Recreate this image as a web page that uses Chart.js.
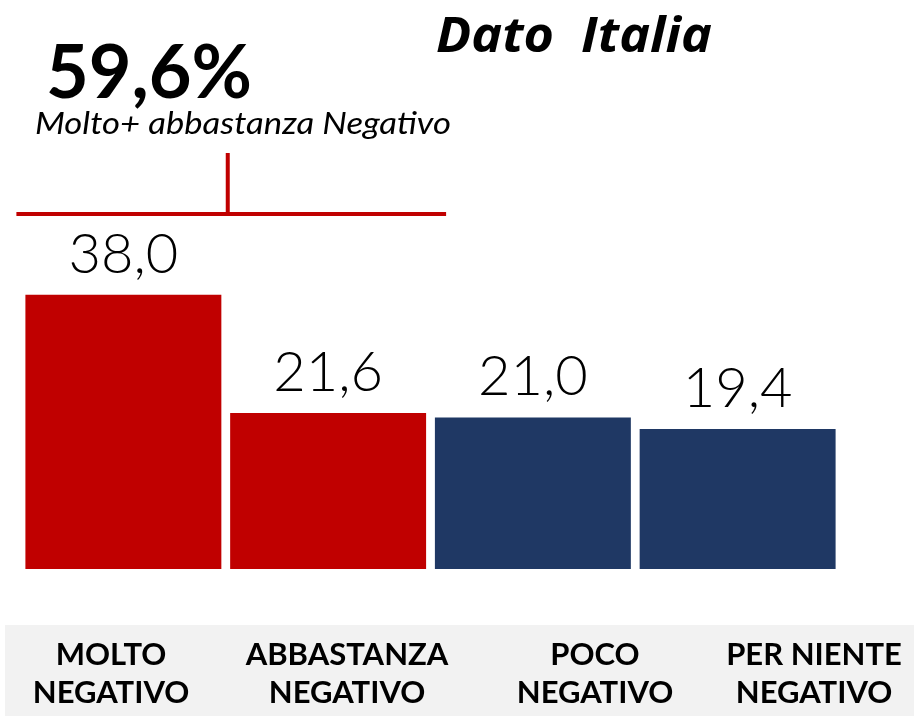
<!DOCTYPE html>
<html lang="it">
<head>
    <meta charset="UTF-8">
    <title>Dato Italia</title>
    <script src="https://cdn.jsdelivr.net/npm/chart.js"></script>
    <style>
      html, body { margin: 0; padding: 0; background: #fff; }
      #myChart { display: block; }
    </style>
</head>
<body>
    <canvas id="myChart" width="914" height="716"></canvas>

    <script>
        // dati
        const categories = [['MOLTO', 'NEGATIVO'], ['ABBASTANZA', 'NEGATIVO'], ['POCO', 'NEGATIVO'], ['PER NIENTE', 'NEGATIVO']];
        const values = [38.0, 21.6, 21.0, 19.4];
        const barColors = ['#C00000', '#C00000', '#1F3864', '#1F3864'];
        const title = 'Dato  Italia';
        const totalLabel = 'Molto+ abbastanza Negativo';

        const fmt = v => v.toFixed(1).replace('.', ',');

        // posizioni orizzontali delle etichette nella fascia grigia
        const labelX = [111, 347, 595, 814];

        // scrive il testo allargandolo fino alla larghezza voluta (font tipo Century Gothic)
        function fitText(ctx, text, x, y, width) {
            const w = ctx.measureText(text).width;
            ctx.save();
            ctx.translate(x, y);
            ctx.scale(width / w, 1);
            ctx.fillText(text, 0, 0);
            ctx.restore();
        }

        const decorPlugin = {
            id: 'decorPlugin',
            beforeDraw(chart) {
                const {ctx} = chart;
                ctx.save();
                // fascia grigia
                ctx.fillStyle = '#F2F2F2';
                ctx.fillRect(5, 625, 909, 91);
                // etichette categorie
                ctx.fillStyle = '#000';
                ctx.textAlign = 'center';
                ctx.textBaseline = 'alphabetic';
                ctx.font = 'bold 31px "Lato", sans-serif';
                categories.forEach((lines, i) => {
                    lines.forEach((t, j) => ctx.fillText(t, labelX[i], 665 + j * 38));
                });
                ctx.restore();
            },
            afterDatasetsDraw(chart) {
                const {ctx} = chart;
                const bars = chart.getDatasetMeta(0).data;
                ctx.save();
                ctx.fillStyle = '#000';
                ctx.textAlign = 'center';
                ctx.textBaseline = 'alphabetic';
                ctx.font = '300 56px "Lato", sans-serif';
                bars.forEach((b, i) => {
                    ctx.fillText(fmt(values[i]), b.x, b.y - 22);
                });

                // titolo
                ctx.textAlign = 'left';
                ctx.font = 'italic bold 48px "Open Sans", sans-serif';
                fitText(ctx, title, 436, 52, 276);

                // totale molto + abbastanza
                const total = values[0] + values[1];
                ctx.font = 'bold 75px "Lato", sans-serif';
                fitText(ctx, fmt(total) + '%', 46, 98, 206);
                ctx.font = 'italic 30px "Lato", sans-serif';
                fitText(ctx, totalLabel, 35, 134, 416);

                // parentesi rossa
                const w = bars[0].width;
                const x0 = bars[0].x - w / 2 - 9;
                const x1 = bars[1].x + w / 2 + 20;
                const xm = (bars[0].x + w / 2 + bars[1].x - w / 2) / 2 + 2;
                ctx.strokeStyle = '#C00000';
                ctx.lineWidth = 4;
                ctx.beginPath();
                ctx.moveTo(x0, 214);
                ctx.lineTo(x1, 214);
                ctx.moveTo(xm, 153);
                ctx.lineTo(xm, 214);
                ctx.stroke();
                ctx.restore();
            }
        };

        const config = {
            type: 'bar',
            data: {
                labels: categories.map(c => c.join(' ')),
                datasets: [{
                    data: values,
                    backgroundColor: barColors,
                    barPercentage: 0.957,
                    categoryPercentage: 1.0
                }]
            },
            options: {
                responsive: false,
                animation: false,
                layout: {
                    padding: {top: 136, bottom: 147, left: 21, right: 74}
                },
                plugins: {
                    legend: { display: false },
                    tooltip: { enabled: false }
                },
                scales: {
                    x: { display: false },
                    y: { display: false, min: 0, max: 60 }
                }
            },
            plugins: [decorPlugin]
        };

        new Chart(document.getElementById('myChart').getContext('2d'), config);
    </script>
</body>
</html>
